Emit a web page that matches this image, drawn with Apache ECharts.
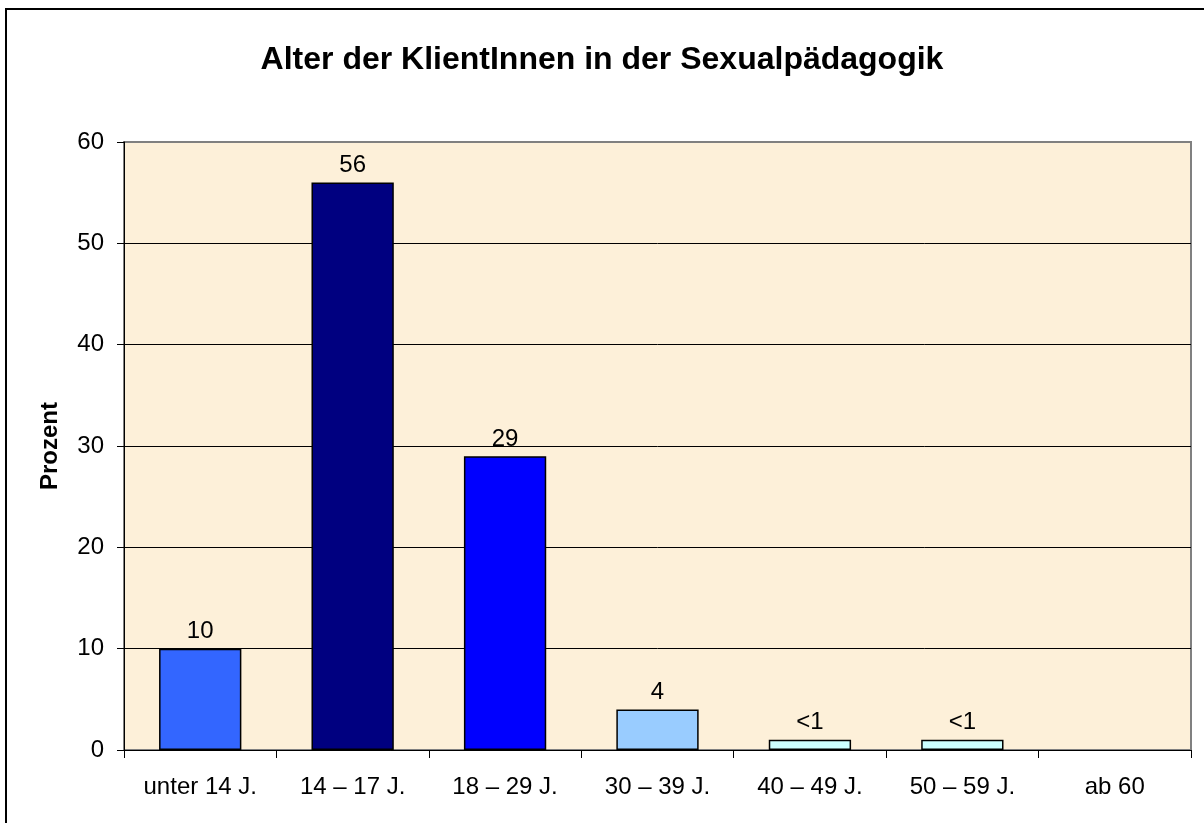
<!DOCTYPE html>
<html>
<head>
<meta charset="utf-8">
<script src="https://cdn.jsdelivr.net/npm/echarts@6/dist/echarts.min.js"></script>
<style>
  html, body { margin: 0; padding: 0; background: #ffffff; }
  #chart { width: 1204px; height: 823px; }
</style>
</head>
<body>
<div id="chart"></div>
<script>
  // Daten
  var categories = ['unter 14 J.', '14 – 17 J.', '18 – 29 J.', '30 – 39 J.', '40 – 49 J.', '50 – 59 J.', 'ab 60'];
  var values = [10, 56, 29, 4, 1, 1, 0];
  var valueLabels = ['10', '56', '29', '4', '<1', '<1', ''];
  var barColors = ['#3366ff', '#000080', '#0000ff', '#99ccff', '#ccffff', '#ccffff', '#ccffff'];

  var font = 'Arial, "Liberation Sans", sans-serif';
  var myChart = echarts.init(document.getElementById('chart'));

  var barData = values.map(function (v, i) {
    return {
      value: v,
      itemStyle: {
        color: barColors[i],
        borderWidth: v === 0 ? 0 : 1.5
      }
    };
  });

  var option = {
    animation: false,
    title: {
      text: 'Alter der KlientInnen in der Sexualpädagogik',
      left: 'center',
      top: 39,
      textStyle: {
        fontFamily: font,
        fontSize: 32,
        fontWeight: 'bold',
        color: '#000'
      }
    },
    graphic: [{
      // äußerer Rahmen (nur links und oben sichtbar)
      type: 'rect',
      silent: true,
      shape: { x: 6, y: 9, width: 1400, height: 1000 },
      style: { fill: 'none', stroke: '#000', lineWidth: 2 }
    }],
    grid: {
      left: 124,
      right: 13,
      top: 142,
      bottom: 73,
      show: true,
      backgroundColor: '#fdf0d9',
      borderColor: '#808080',
      borderWidth: 2
    },
    xAxis: {
      type: 'category',
      data: categories,
      axisLine: { lineStyle: { color: '#000', width: 1 } },
      axisTick: { show: true, length: 8, lineStyle: { color: '#000' } },
      axisLabel: {
        margin: 25,
        fontFamily: font,
        fontSize: 24,
        color: '#000'
      }
    },
    yAxis: {
      type: 'value',
      min: 0,
      max: 60,
      interval: 10,
      name: 'Prozent',
      nameLocation: 'middle',
      nameGap: 62,
      nameRotate: 90,
      nameTextStyle: {
        fontFamily: font,
        fontSize: 24,
        fontWeight: 'bold',
        color: '#000'
      },
      axisLine: { show: true, lineStyle: { color: '#000', width: 1 } },
      axisTick: { show: true, length: 7, lineStyle: { color: '#000' } },
      axisLabel: {
        margin: 20,
        fontFamily: font,
        fontSize: 24,
        color: '#000'
      },
      splitLine: {
        show: true,
        showMaxLine: false,
        lineStyle: { color: '#000', width: 1 }
      }
    },
    series: [{
      type: 'bar',
      data: barData,
      barCategoryGap: '46%',
      itemStyle: {
        borderColor: '#000',
        borderWidth: 1.5
      },
      label: {
        show: true,
        position: 'top',
        distance: 5,
        fontFamily: font,
        fontSize: 24,
        color: '#000',
        formatter: function (params) {
          return valueLabels[params.dataIndex];
        }
      }
    }]
  };

  myChart.setOption(option);
</script>
</body>
</html>
